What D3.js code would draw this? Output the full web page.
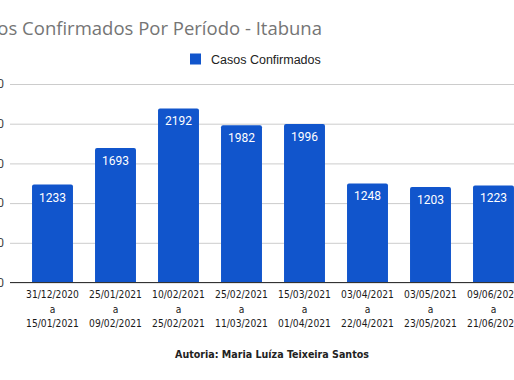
<!DOCTYPE html>
<html><head><meta charset="utf-8">
<script src="https://cdn.jsdelivr.net/npm/d3@7"></script>
<style>body{margin:0;background:#fff}svg{display:block}</style>
</head><body>
<script>
const categories = [
  ["31/12/2020","a","15/01/2021"],
  ["25/01/2021","a","09/02/2021"],
  ["10/02/2021","a","25/02/2021"],
  ["25/02/2021","a","11/03/2021"],
  ["15/03/2021","a","01/04/2021"],
  ["03/04/2021","a","22/04/2021"],
  ["03/05/2021","a","23/05/2021"],
  ["09/06/2021","a","21/06/2021"]
];
const values = [1233, 1693, 2192, 1982, 1996, 1248, 1203, 1223];
const yTicks = [0, 500, 1000, 1500, 2000, 2500];
const seriesName = "Casos Confirmados";
const title = "Casos Confirmados Por Período - Itabuna";
const footer = "Autoria: Maria Luíza Teixeira Santos";

const W = 514, H = 380;
const svg = d3.select("body").append("svg").attr("width", W).attr("height", H);

const x = d3.scaleBand().domain(d3.range(categories.length))
  .range([21, 525]).paddingInner(0.35).paddingOuter(0.175);
const y = d3.scaleLinear().domain([0, 2500]).range([282.5, 84]);

// title
svg.append("text").attr("x", 322).attr("y", 35).attr("text-anchor", "end")
  .attr("font-family", "Open Sans").attr("font-size", 18.5).attr("fill", "#757575")
  .text(title);

// legend
svg.append("rect").attr("x", 190).attr("y", 53.5).attr("width", 11).attr("height", 11).attr("fill", "#1155cc");
svg.append("text").attr("x", 211).attr("y", 63.5)
  .attr("font-family", "Liberation Sans").attr("font-size", 12.5).attr("fill", "#222")
  .text(seriesName);

// grid + y labels
const yAxis = d3.axisLeft(y).tickValues(yTicks).tickSize(-(W - 10)).tickPadding(6);
const gy = svg.append("g").attr("transform", "translate(10,0)").call(yAxis);
gy.select(".domain").remove();
gy.selectAll(".tick line").attr("stroke", "#cccccc");
gy.selectAll(".tick text").attr("font-family", "Roboto").attr("font-size", 12).attr("fill", "#444").attr("x", -6);

// bars
const r = 2;
svg.append("g").selectAll("path").data(values).join("path")
  .attr("fill", "#1155cc")
  .attr("d", (d, i) => {
    const x0 = x(i), w = x.bandwidth(), t = y(d), b = y(0);
    return `M${x0},${b}V${t + r}Q${x0},${t} ${x0 + r},${t}H${x0 + w - r}Q${x0 + w},${t} ${x0 + w},${t + r}V${b}Z`;
  });

// value labels
svg.append("g").selectAll("text").data(values).join("text")
  .attr("x", (d, i) => x(i) + x.bandwidth() / 2).attr("y", d => y(d) + 17)
  .attr("text-anchor", "middle").attr("font-family", "Roboto").attr("font-size", 12)
  .attr("fill", "#fff").text(d => d);

// baseline
svg.append("line").attr("x1", 10).attr("x2", W).attr("y1", y(0)).attr("y2", y(0))
  .attr("stroke", "#333").attr("stroke-width", 1);

// x labels
const gx = svg.append("g").selectAll("text").data(categories).join("text")
  .attr("text-anchor", "middle").attr("font-family", "DejaVu Sans Condensed")
  .attr("font-size", 10.2).attr("fill", "#1a1a1a");
gx.each(function(d, i) {
  const t = d3.select(this);
  const cx = x(i) + x.bandwidth() / 2;
  d.forEach((line, j) => {
    t.append("tspan").attr("x", cx).attr("y", 298 + j * 14.5).text(line);
  });
});

// footer
svg.append("text").attr("x", 272).attr("y", 358).attr("text-anchor", "middle")
  .attr("font-family", "DejaVu Sans Condensed").attr("font-weight", "bold")
  .attr("font-size", 10.6).attr("fill", "#222").text(footer);
</script>
</body></html>
